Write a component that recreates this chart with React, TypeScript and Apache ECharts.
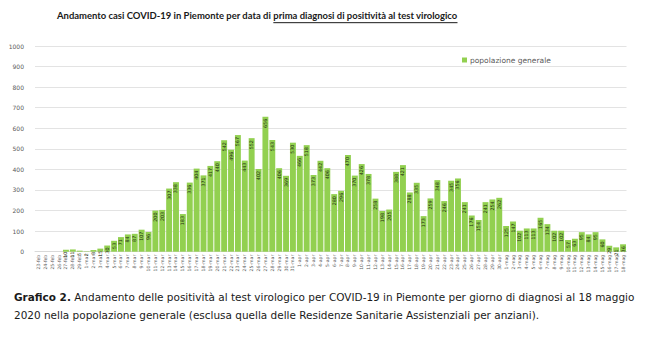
import React, { useEffect, useRef } from 'react';
import * as echarts from 'echarts';

const categories: string[] = [
  '23-feb', '24-feb', '25-feb', '26-feb', '27-feb', '28-feb', '29-feb',
  '1-mar', '2-mar', '3-mar', '4-mar', '5-mar', '6-mar', '7-mar', '8-mar', '9-mar', '10-mar',
  '11-mar', '12-mar', '13-mar', '14-mar', '15-mar', '16-mar', '17-mar', '18-mar', '19-mar', '20-mar',
  '21-mar', '22-mar', '23-mar', '24-mar', '25-mar', '26-mar', '27-mar', '28-mar', '29-mar', '30-mar', '31-mar',
  '1-apr', '2-apr', '3-apr', '4-apr', '5-apr', '6-apr', '7-apr', '8-apr', '9-apr', '10-apr',
  '11-apr', '12-apr', '13-apr', '14-apr', '15-apr', '16-apr', '17-apr', '18-apr', '19-apr', '20-apr',
  '21-apr', '22-apr', '23-apr', '24-apr', '25-apr', '26-apr', '27-apr', '28-apr', '29-apr', '30-apr',
  '1-mag', '2-mag', '3-mag', '4-mag', '5-mag', '6-mag', '7-mag', '8-mag', '9-mag', '10-mag',
  '11-mag', '12-mag', '13-mag', '14-mag', '15-mag', '16-mag', '17-mag', '18-mag',
];

const febValues = [0, 0, 0, 0, 10, 11, 5];
const marValues = [
  2, 8, 15, 30, 53, 71, 84, 87, 107, 96, 200, 203, 307, 338, 183, 336, 404, 371, 417, 440,
  542, 496, 567, 443, 552, 402, 656, 543, 406, 369, 530,
];
const aprValues = [
  466, 518, 373, 442, 406, 280, 296, 470, 370, 426, 378, 258, 198, 205, 388, 421, 288, 335, 173, 259,
  348, 246, 345, 356, 241, 176, 154, 241, 254, 262,
];
const magValues = [125, 147, 102, 113, 113, 165, 134, 102, 102, 57, 63, 95, 84, 95, 60, 29, 21, 36];

const seriesName = 'popolazione generale';
const titlePart1 = 'Andamento casi COVID-19 in Piemonte per data di';
const titlePart2 = 'prima diagnosi di positività al test virologico';
const captionBold = 'Grafico 2.';
const captionLine1 = ' Andamento delle positività al test virologico per COVID-19 in Piemonte per giorno di diagnosi al 18 maggio';
const captionLine2 = '2020 nella popolazione generale (esclusa quella delle Residenze Sanitarie Assistenziali per anziani).';

const FONT = 'DejaVu Sans';
const TITLE_FONT = 'Lato';

function measure(text: string, font: string): number {
  const ctx = document.createElement('canvas').getContext('2d');
  if (!ctx) return text.length * 6;
  ctx.font = font;
  return ctx.measureText(text).width;
}

export default function App() {
  const ref = useRef<HTMLDivElement>(null);

  useEffect(() => {
    if (!ref.current) return;
    document.body.style.margin = '0';
    const chart = echarts.init(ref.current, undefined, { renderer: 'svg' });
    const values = [...febValues, ...marValues, ...aprValues, ...magValues];

    // Title sizing
    const titleX = 57;
    const titleW = 401;
    const tBase = measure(titlePart1 + ' ' + titlePart2, `bold 10px ${TITLE_FONT}`);
    const tfs = Math.min(12, (10 * titleW) / tBase);
    const tw1 = measure(titlePart1 + ' ', `bold ${tfs}px ${TITLE_FONT}`);
    const tw2 = measure(titlePart2, `bold ${tfs}px ${TITLE_FONT}`);
    const titleY = 17;

    // Caption sizing
    const capX = 14;
    const capW = 621;
    const cBoldW10 = measure(captionBold, `bold 10px ${FONT}`);
    const cRestW10 = measure(captionLine1, `10px ${FONT}`);
    const cfs = Math.min(12, (10 * capW) / (cBoldW10 + cRestW10));
    const cBoldW = measure(captionBold, `bold ${cfs}px ${FONT}`);

    chart.setOption({
      animation: false,
      backgroundColor: '#ffffff',
      textStyle: { fontFamily: FONT },
      legend: {
        data: [seriesName],
        left: 457,
        top: 51,
        icon: 'rect',
        itemWidth: 5,
        itemHeight: 5,
        itemGap: 4,
        textStyle: { fontSize: 7.5, color: '#595959', fontFamily: FONT, padding: [0, 0, 0, -2] },
      },
      grid: { left: 35, right: 23.5, top: 46, bottom: 104.3, containLabel: false },
      xAxis: {
        type: 'category',
        data: categories,
        boundaryGap: true,
        axisLine: { lineStyle: { color: '#d9d9d9' } },
        axisTick: { show: false },
        axisLabel: {
          interval: 0,
          rotate: 90,
          fontSize: 4.6,
          color: '#595959',
          margin: 3,
        },
      },
      yAxis: {
        type: 'value',
        min: 0,
        max: 1000,
        interval: 100,
        axisLine: { show: false },
        axisTick: { show: false },
        axisLabel: {
          fontSize: 6,
          color: '#595959',
          margin: 11,
          formatter: (v: number) => String(v),
        },
        splitLine: { lineStyle: { color: '#e3e3e3', width: 1 } },
      },
      series: [
        {
          name: seriesName,
          type: 'bar',
          data: values,
          barCategoryGap: '14%',
          itemStyle: { color: '#92D050' },
          label: {
            show: true,
            position: 'insideTop',
            distance: 2,
            rotate: 90,
            align: 'right',
            verticalAlign: 'middle',
            fontSize: 4.8,
            color: '#1f2a12',
            formatter: (p: any) => (p.value > 0 ? String(p.value) : ''),
          },
        },
      ],
      graphic: [
        {
          type: 'text',
          left: titleX,
          top: titleY - tfs * 0.6,
          style: {
            text: titlePart1,
            fontFamily: TITLE_FONT,
            fontWeight: 'bold',
            fontSize: tfs,
            fill: '#1a1a1a',
          },
        },
        {
          type: 'text',
          left: titleX + tw1,
          top: titleY - tfs * 0.6,
          style: {
            text: titlePart2,
            fontFamily: TITLE_FONT,
            fontWeight: 'bold',
            fontSize: tfs,
            fill: '#1a1a1a',
          },
        },
        {
          type: 'line',
          shape: {
            x1: titleX + tw1,
            y1: titleY + tfs * 0.6,
            x2: titleX + tw1 + tw2,
            y2: titleY + tfs * 0.6,
          },
          style: { stroke: '#1a1a1a', lineWidth: 1 },
        },
        {
          type: 'text',
          left: capX,
          top: 298 - cfs * 0.6,
          style: {
            text: captionBold,
            fontFamily: FONT,
            fontWeight: 'bold',
            fontSize: cfs,
            fill: '#1a1a1a',
          },
        },
        {
          type: 'text',
          left: capX + cBoldW,
          top: 298 - cfs * 0.6,
          style: {
            text: captionLine1,
            fontFamily: FONT,
            fontSize: cfs,
            fill: '#1a1a1a',
          },
        },
        {
          type: 'text',
          left: capX,
          top: 316 - cfs * 0.6,
          style: {
            text: captionLine2,
            fontFamily: FONT,
            fontSize: cfs,
            fill: '#1a1a1a',
          },
        },
      ],
    });

    return () => {
      chart.dispose();
    };
  }, []);

  return (
    <div
      ref={ref}
      style={{ position: 'fixed', left: 0, top: 0, width: 650, height: 356, background: '#fff' }}
    />
  );
}
